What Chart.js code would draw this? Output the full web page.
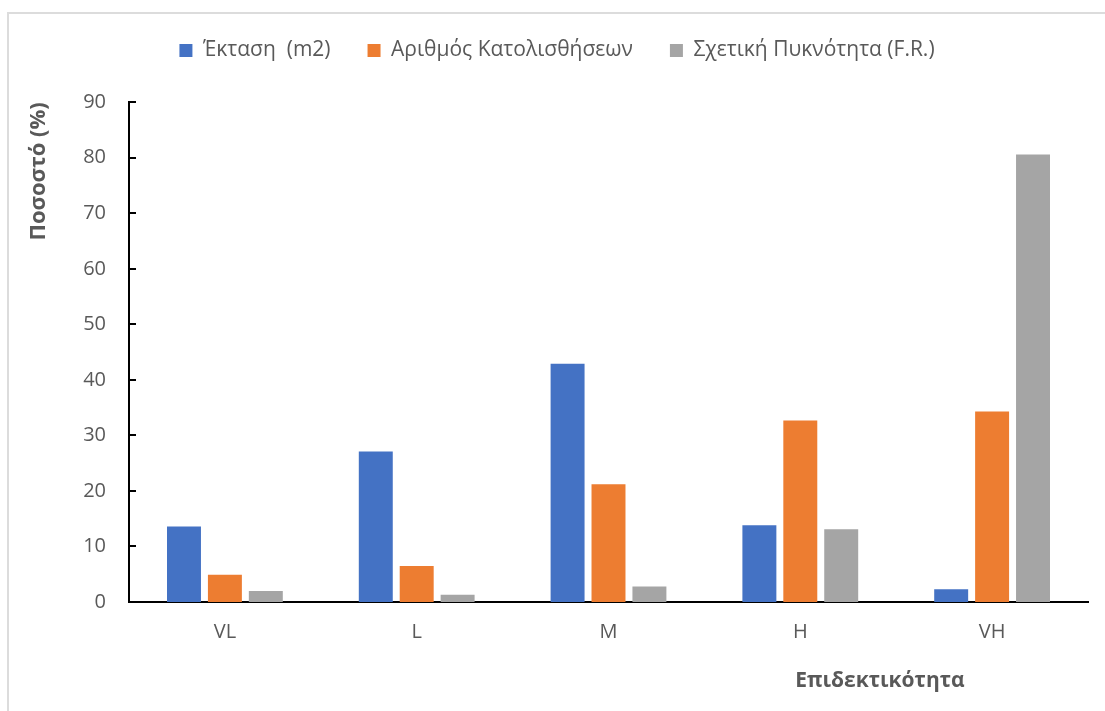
<!DOCTYPE html>
<html lang="el">
<head>
<meta charset="utf-8">
<title>Επιδεκτικότητα</title>
<script src="https://cdn.jsdelivr.net/npm/chart.js@4.4.1/dist/chart.umd.min.js"></script>
<style>
  html, body { margin: 0; padding: 0; background: #fff; overflow: hidden; }
  #frame {
    position: absolute; left: 7px; top: 12px; width: 1200px; height: 800px;
    border: 2px solid #dcdcdc; box-sizing: border-box;
  }
  #wrap { position: absolute; left: 0; top: 0; width: 1105px; height: 711px; }
</style>
</head>
<body>
<div id="frame"></div>
<div id="wrap"><canvas id="chart" width="1105" height="711"></canvas></div>
<script>
// Susceptibility classes
const categories = ['VL', 'L', 'M', 'H', 'VH'];

// Percent values per class
const areaPct      = [13.6, 27.1, 42.9, 13.8, 2.3];   // Έκταση (m2)
const landslidePct = [4.9, 6.5, 21.2, 32.7, 34.3];    // Αριθμός Κατολισθήσεων
const frPct        = [2.0, 1.3, 2.8, 13.1, 80.6];     // Σχετική Πυκνότητα (F.R.)

const seriesNames = ['Έκταση  (m2)', 'Αριθμός Κατολισθήσεων', 'Σχετική Πυκνότητα (F.R.)'];
const seriesColors = ['#4472C4', '#ED7D31', '#A5A5A5'];

const yMin = 0, yMax = 90, yStep = 10;
const yTitle = 'Ποσοστό (%)';
const xTitle = 'Επιδεκτικότητα';

const FONT = "'Open Sans', 'DejaVu Sans', sans-serif";
const TEXT = '#595959';

// Short inward tick marks on the value axis
const innerTicks = {
  id: 'innerTicks',
  afterDraw(chart) {
    const y = chart.scales.y;
    const ctx = chart.ctx;
    const x0 = chart.chartArea.left;
    ctx.save();
    ctx.strokeStyle = '#000';
    ctx.lineWidth = 2;
    y.ticks.forEach(t => {
      const py = Math.round(y.getPixelForValue(t.value));
      ctx.beginPath();
      ctx.moveTo(x0 - 1, py);
      ctx.lineTo(x0 + 7, py);
      ctx.stroke();
    });
    ctx.restore();
  }
};

// Category axis title, set toward the right of the plot
const xAxisTitle = {
  id: 'xAxisTitle',
  afterDraw(chart) {
    const a = chart.chartArea;
    const ctx = chart.ctx;
    ctx.save();
    ctx.font = "bold 21px " + FONT;
    ctx.fillStyle = TEXT;
    ctx.textAlign = 'center';
    ctx.textBaseline = 'middle';
    ctx.fillText(xTitle, a.left + (a.right - a.left) * 0.783, a.bottom + 79);
    ctx.restore();
  }
};

new Chart(document.getElementById('chart'), {
  type: 'bar',
  data: {
    labels: categories,
    datasets: [
      { label: seriesNames[0], data: areaPct,      backgroundColor: seriesColors[0] },
      { label: seriesNames[1], data: landslidePct, backgroundColor: seriesColors[1] },
      { label: seriesNames[2], data: frPct,        backgroundColor: seriesColors[2] }
    ]
  },
  options: {
    responsive: false,
    animation: false,
    events: [],
    layout: { padding: { left: 26, right: 17, top: 3, bottom: 0 } },
    datasets: {
      bar: { categoryPercentage: 0.64, barPercentage: 0.83 }
    },
    plugins: {
      legend: {
        position: 'top',
        labels: {
          boxWidth: 13, boxHeight: 13, padding: 37,
          color: TEXT, font: { family: FONT, size: 21 }
        }
      },
      // empty spacer between the legend and the plot
      subtitle: {
        display: true, text: '', weight: 500,
        font: { size: 1 }, padding: { top: 30, bottom: 0 }
      },
      tooltip: { enabled: false }
    },
    scales: {
      x: {
        grid: { display: false, drawTicks: false },
        border: { display: true, color: '#000', width: 2 },
        ticks: { color: TEXT, padding: 18, font: { family: FONT, size: 20 } },
        afterFit(s) { s.height = 109; }
      },
      y: {
        min: yMin, max: yMax,
        grid: { display: false, drawTicks: false },
        border: { display: true, color: '#000', width: 2 },
        ticks: { stepSize: yStep, color: TEXT, padding: 23, font: { family: FONT, size: 20 } },
        title: {
          display: true, text: yTitle, align: 'end', color: TEXT,
          padding: { top: 0, bottom: 0 },
          font: { family: FONT, size: 22, weight: 'bold' }
        },
        afterFit(s) { s.width = 103; }
      }
    }
  },
  plugins: [innerTicks, xAxisTitle]
});
</script>
</body>
</html>
